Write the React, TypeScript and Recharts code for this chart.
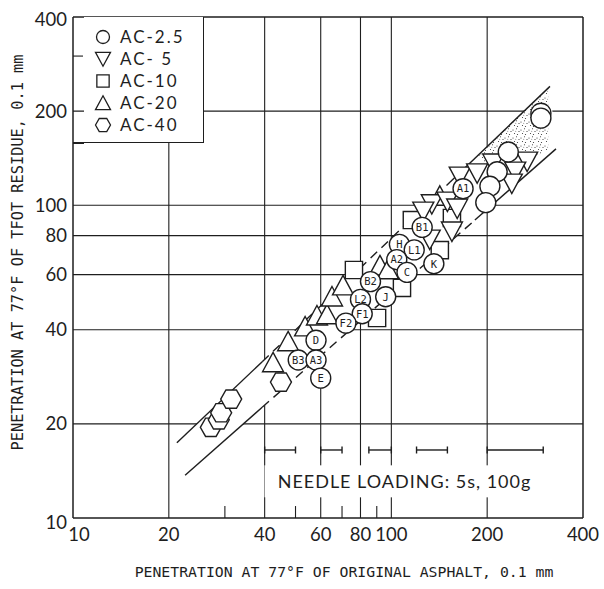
import { ScatterChart, Scatter, XAxis, YAxis, ReferenceLine, Legend } from 'recharts';

const INK = '#1e1e1e';
const TICK_FONT = "Lato, 'DejaVu Sans', sans-serif";
const MONO_FONT = "'DejaVu Sans Mono', monospace";

// Axis ticks / grid
const AXIS_TICKS = [10, 20, 40, 60, 80, 100, 200, 400];
const X_GRID = [20, 40, 60, 80, 100, 200];
const Y_GRID = [20, 40, 60, 80, 100, 200];
const X_MINOR = [30, 50, 70, 90];
const Y_MINOR = [300];

// AC-2.5 (circles) - unlabelled first, lettered specimens on top
const AC25_LABELS = ['', '', '', '', '', '', 'A1', 'B1', 'H', 'L1', 'A2', 'K', 'C', 'B2', 'J', 'L2', 'F1', 'F2', 'D', 'B3', 'A3', 'E'];
const AC25_X = [295, 295, 233, 215, 204, 198, 168, 125, 106, 118, 104, 136, 112, 86, 96, 80, 81, 72, 58, 51, 58, 60];
const AC25_Y = [197, 190, 148, 128, 115, 102, 113, 85, 75, 72, 67, 65, 61, 57, 51, 50, 45, 42, 37, 32, 32, 28];

// AC-5 (down triangles)
const AC5_X = [134, 150, 161, 155, 126, 164, 186, 209, 267, 245, 239, 132];
const AC5_Y = [102, 104, 98.8, 83.4, 96.6, 125, 128, 137.6, 139.6, 129.7, 118.7, 78.6];

// AC-10 (squares)
const AC10_X = [76.3, 116, 142, 155, 90.2, 108];
const AC10_Y = [62.1, 89.7, 71.9, 91.1, 43.6, 54.4];

// AC-20 (up triangles)
const AC20_X = [42.5, 47.4, 53.6, 58.4, 62.8, 65.1, 70.5, 92.1, 97.6, 142];
const AC20_Y = [31.1, 36.3, 40.5, 43.9, 44.3, 50.5, 54.8, 63.5, 61.7, 106];

// AC-40 (hexagons)
const AC40_X = [27.1, 28.7, 29.2, 31.4, 45];
const AC40_Y = [19.5, 20.6, 21.7, 24.0, 27.2];

// Band boundaries (upper / lower), break points where the line turns dashed
const UPPER_X = [21.2, 39.3, 153, 315];
const UPPER_Y = [17.4, 31.6, 118.7, 240];
const LOWER_X = [22.5, 39.3, 183, 329];
const LOWER_Y = [13.7, 22.6, 89.7, 151.5];

// Stippled zone at the high-penetration end of the band
const STIPPLE_X = [187, 311, 311, 273, 245, 220, 197];
const STIPPLE_Y = [145, 237, 150, 140, 150, 150, 134.5];

// Needle loading penetration ranges
const NEEDLE_RANGES = [[40, 50], [60, 70], [85, 100], [120, 150], [200, 300]];
const NEEDLE_Y = 16.5;
const NOTE_X = 110;
const NOTE_Y = 13.1;
const NOTE_TEXT = 'NEEDLE LOADING: 5s, 100g';

const SERIES = [
  { name: 'AC-2.5', kind: 'circle' },
  { name: 'AC- 5', kind: 'down' },
  { name: 'AC-10', kind: 'square' },
  { name: 'AC-20', kind: 'up' },
  { name: 'AC-40', kind: 'hex' },
];

const zip = (xs: number[], ys: number[]) => xs.map((x, i) => ({ x, y: ys[i] }));

const ac25 = AC25_X.map((x, i) => ({ x, y: AC25_Y[i], label: AC25_LABELS[i] }));
const ac5 = zip(AC5_X, AC5_Y);
const ac10 = zip(AC10_X, AC10_Y);
const ac20 = zip(AC20_X, AC20_Y);
const ac40 = zip(AC40_X, AC40_Y);

const bandPoly = [...zip(UPPER_X, UPPER_Y), ...zip(LOWER_X, LOWER_Y).reverse()];
const stipple = zip(STIPPLE_X, STIPPLE_Y);
const segs = (xs: number[], ys: number[]) =>
  xs.slice(1).map((x, i) => [{ x: xs[i], y: ys[i] }, { x, y: ys[i + 1] }]);
const upperSegs = segs(UPPER_X, UPPER_Y);
const lowerSegs = segs(LOWER_X, LOWER_Y);

// --- marker shapes ---
const symbolPath = (kind: string, cx: number, cy: number, s: number) => {
  const h = s / 2;
  switch (kind) {
    case 'up':
      return `M${cx},${cy - h * 1.1}L${cx + h},${cy + h * 0.75}L${cx - h},${cy + h * 0.75}Z`;
    case 'down':
      return `M${cx - h},${cy - h * 0.75}L${cx + h},${cy - h * 0.75}L${cx},${cy + h * 1.1}Z`;
    case 'square':
      return `M${cx - h * 0.82},${cy - h * 0.82}h${h * 1.64}v${h * 1.64}h${-h * 1.64}Z`;
    case 'hex':
      return `M${cx - h},${cy}L${cx - h / 2},${cy - h * 0.87}L${cx + h / 2},${cy - h * 0.87}L${cx + h},${cy}L${cx + h / 2},${cy + h * 0.87}L${cx - h / 2},${cy + h * 0.87}Z`;
    default:
      return '';
  }
};

const makeShape = (kind: string) => (p: any) =>
  <path d={symbolPath(kind, p.cx, p.cy, 21)} fill="#fff" stroke={INK} strokeWidth={1.4} />;

const circleShape = (p: any) => (
  <g>
    <circle cx={p.cx} cy={p.cy} r={10} fill="#fff" stroke={INK} strokeWidth={1.4} />
    {p.payload.label ? (
      <text x={p.cx} y={p.cy} dy="0.36em" textAnchor="middle" fontSize={10.5} fontFamily={MONO_FONT} fill={INK}>
        {p.payload.label}
      </text>
    ) : null}
  </g>
);

const noShape = () => <g />;

const capShape = (p: any) => (
  <line x1={p.cx} x2={p.cx} y1={p.cy - 3.5} y2={p.cy + 3.5} stroke={INK} strokeWidth={1.4} />
);

const noteShape = (p: any) => (
  <g>
    <rect x={p.cx - 140} y={p.cy - 16} width={282} height={32} fill="#fff" />
    <text x={p.cx} y={p.cy} dy="0.36em" textAnchor="middle" fontSize={18} letterSpacing={1} fontFamily={TICK_FONT} fill={INK}>
      {NOTE_TEXT}
    </text>
  </g>
);

const XTick = (p: any) => {
  const v = p.payload.value;
  return (
    <text x={p.x + (v === 10 ? 6 : 0)} y={p.y} dy="0.71em" textAnchor="middle" fontSize={18.5} fontFamily={TICK_FONT} fill={INK}>
      {v}
    </text>
  );
};

const YTick = (p: any) => {
  const v = p.payload.value;
  return (
    <text x={p.x} y={p.y + (v === 10 ? 4 : v === 400 ? 2 : 0)} dy="0.355em" textAnchor="end" fontSize={18.5} fontFamily={TICK_FONT} fill={INK}>
      {v}
    </text>
  );
};

const legendSymbol = (kind: string) =>
  kind === 'circle'
    ? <circle cx={9} cy={9} r={6.5} fill="#fff" stroke={INK} strokeWidth={1.3} />
    : <path d={symbolPath(kind, 9, kind === 'down' ? 8 : kind === 'up' ? 10 : 9, 15)} fill="#fff" stroke={INK} strokeWidth={1.3} />;

const renderLegend = () => (
  <div style={{ position: 'relative', width: 120, height: 126, background: '#fff', borderRight: `1.5px solid ${INK}`, borderBottom: `1.5px solid ${INK}`, boxSizing: 'border-box' }}>
    <div style={{ position: 'absolute', left: -11, bottom: -1.5, width: 11, height: 1.5, background: INK }} />
    {SERIES.map((s, i) => (
      <div key={s.name} style={{ position: 'absolute', left: 10, top: 10 + i * 22, height: 20, display: 'flex', alignItems: 'center' }}>
        <svg width={18} height={18}>{legendSymbol(s.kind)}</svg>
        <span style={{ marginLeft: 8, fontFamily: TICK_FONT, fontSize: 17, letterSpacing: 2, color: INK, whiteSpace: 'pre', lineHeight: '20px' }}>
          {s.name}
        </span>
      </div>
    ))}
  </div>
);

export default function App() {
  return (
    <div style={{ position: 'absolute', left: 0, top: 0, background: '#fff' }}>
      <ScatterChart width={604} height={589} margin={{ top: 17, right: 21, bottom: 0, left: 0 }}>
        <defs>
          <pattern id="stipple" width={8} height={8} patternUnits="userSpaceOnUse">
            <circle cx={1} cy={2} r={0.6} fill="#333" />
            <circle cx={4.5} cy={0.8} r={0.55} fill="#333" />
            <circle cx={7} cy={3.5} r={0.6} fill="#333" />
            <circle cx={2.5} cy={5.5} r={0.55} fill="#333" />
            <circle cx={5.5} cy={6.5} r={0.6} fill="#333" />
            <circle cx={3.8} cy={3.2} r={0.45} fill="#333" />
          </pattern>
        </defs>
        <XAxis
          dataKey="x"
          type="number"
          scale="log"
          domain={[10, 400]}
          allowDataOverflow
          ticks={AXIS_TICKS}
          interval={0}
          height={71}
          tickSize={0}
          tickMargin={10}
          tickLine={false}
          axisLine={{ stroke: INK, strokeWidth: 1.5 }}
          tick={<XTick />}
          label={{
            content: (props: any) => {
              const vb = props.viewBox || { x: 73, y: 518, width: 510 };
              return (
                <text x={vb.x + vb.width / 2 + 16} y={vb.y + 59} textAnchor="middle" fontSize={14.8} fontFamily={MONO_FONT} fill={INK}>
                  PENETRATION AT 77°F OF ORIGINAL ASPHALT, 0.1 mm
                </text>
              );
            },
          }}
        />
        <YAxis
          dataKey="y"
          type="number"
          scale="log"
          domain={[10, 400]}
          allowDataOverflow
          ticks={AXIS_TICKS}
          interval={0}
          width={73}
          tickSize={0}
          tickMargin={6}
          tickLine={false}
          axisLine={{ stroke: INK, strokeWidth: 1.5 }}
          tick={<YTick />}
          label={{
            content: (props: any) => {
              const vb = props.viewBox || { x: 0, y: 17, height: 501 };
              const cx = vb.x + 18;
              const cy = vb.y + vb.height / 2 - 15;
              return (
                <text x={cx} y={cy} transform={`rotate(-90 ${cx} ${cy})`} textAnchor="middle" dominantBaseline="central" fontSize={15.3} fontFamily={MONO_FONT} fill={INK}>
                  PENETRATION AT 77°F OF TFOT RESIDUE, 0.1 mm
                </text>
              );
            },
          }}
        />

        {X_GRID.map((v) => <ReferenceLine key={`gx${v}`} x={v} stroke={INK} strokeWidth={1.1} />)}
        {Y_GRID.map((v) => <ReferenceLine key={`gy${v}`} y={v} stroke={INK} strokeWidth={1.1} />)}
        {X_MINOR.map((v) => (
          <ReferenceLine key={`mx${v}`} segment={[{ x: v, y: 10 }, { x: v, y: 10.92 }]} stroke={INK} strokeWidth={1.1} />
        ))}
        {Y_MINOR.map((v) => (
          <ReferenceLine key={`my${v}`} segment={[{ x: 10, y: v }, { x: 10.75, y: v }]} stroke={INK} strokeWidth={1.1} />
        ))}
        <ReferenceLine y={400} stroke={INK} strokeWidth={1.5} />
        <ReferenceLine x={400} stroke={INK} strokeWidth={1.5} />

        {/* white band and its stippled end */}
        <Scatter data={bandPoly} fill="#fff" shape={noShape} line={{ fill: '#fff', stroke: 'none' }} lineType="joint" isAnimationActive={false} />
        <Scatter data={stipple} fill="#fff" shape={noShape} line={{ fill: 'url(#stipple)', stroke: 'none' }} lineType="joint" isAnimationActive={false} />
        {upperSegs.map((s, i) => (
          <Scatter key={`u${i}`} data={s} shape={noShape} lineType="joint" isAnimationActive={false}
            line={{ stroke: INK, strokeWidth: 1.4, fill: 'none', strokeDasharray: i === 1 ? '9 6' : undefined }} />
        ))}
        {lowerSegs.map((s, i) => (
          <Scatter key={`l${i}`} data={s} shape={noShape} lineType="joint" isAnimationActive={false}
            line={{ stroke: INK, strokeWidth: 1.4, fill: 'none', strokeDasharray: i === 1 ? '9 6' : undefined }} />
        ))}

        {/* needle loading note */}
        <Scatter data={[{ x: NOTE_X, y: NOTE_Y }]} shape={noteShape} isAnimationActive={false} />
        {NEEDLE_RANGES.map(([a, b]) => (
          <Scatter key={`n${a}`} data={[{ x: a, y: NEEDLE_Y }, { x: b, y: NEEDLE_Y }]} shape={capShape} lineType="joint"
            line={{ stroke: INK, strokeWidth: 1.4, fill: 'none' }} isAnimationActive={false} />
        ))}

        <Scatter name="AC-40" data={ac40} shape={makeShape('hex')} isAnimationActive={false} />
        <Scatter name="AC-20" data={ac20} shape={makeShape('up')} isAnimationActive={false} />
        <Scatter name="AC-10" data={ac10} shape={makeShape('square')} isAnimationActive={false} />
        <Scatter name="AC-5" data={ac5} shape={makeShape('down')} isAnimationActive={false} />
        <Scatter name="AC-2.5" data={ac25} shape={circleShape} isAnimationActive={false} />

        <Legend content={renderLegend} layout="vertical" align="center" verticalAlign="middle" wrapperStyle={{ left: 84, top: 17, width: 120, height: 126 }} />
      </ScatterChart>
    </div>
  );
}
